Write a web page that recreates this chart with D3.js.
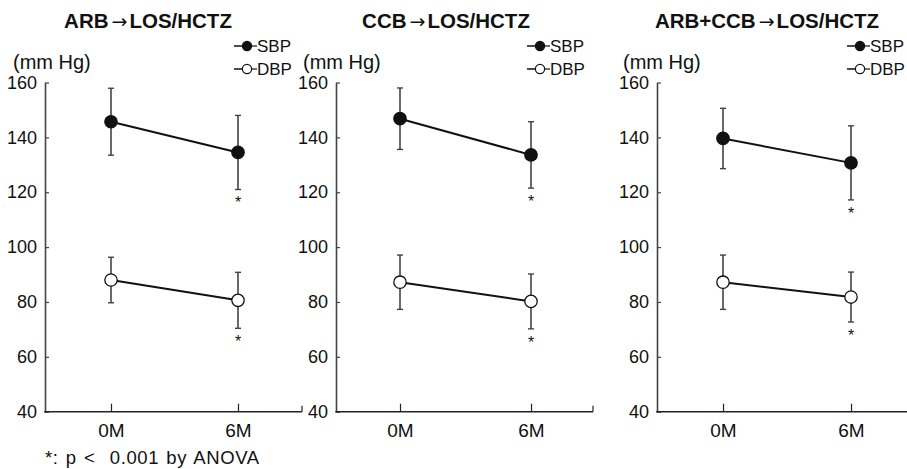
<!DOCTYPE html>
<html>
<head>
<meta charset="utf-8">
<script src="https://cdn.jsdelivr.net/npm/d3@7"></script>
<style>
  body { margin: 0; background: #fff; }
  text { font-family: "Liberation Sans", Arial, Helvetica, sans-serif; fill: #111; }
</style>
</head>
<body>
<svg id="chart" width="907" height="469"></svg>
<script>
// data
const times = ["0M", "6M"];
const titleFrom = ["ARB", "CCB", "ARB+CCB"];
const titleTo = "LOS/HCTZ";
const sbpMean = [[145.7, 134.5], [146.8, 133.6], [139.6, 130.7]];
const sbpSD   = [[12.2, 13.5], [11.2, 12.1], [11.0, 13.5]];
const dbpMean = [[88.0, 80.6], [87.2, 80.2], [87.2, 81.8]];
const dbpSD   = [[8.3, 10.2], [9.9, 10.0], [9.9, 9.1]];
const sigSBP  = [[false, true], [false, true], [false, true]];
const sigDBP  = [[false, true], [false, true], [false, true]];
const yTicks  = [40, 60, 80, 100, 120, 140, 160];
const legendLabels = ["SBP", "DBP"];
const footnote = "*: p <  0.001 by ANOVA";

// panel geometry
const layout = [
  {axisX: 45,  endX: 302, pts: [111, 238], titleX: 148, unitX: 13,  legX: 234},
  {axisX: 336, endX: 593, pts: [400, 531], titleX: 446, unitX: 303, legX: 527},
  {axisX: 657, endX: 912, pts: [723, 851], titleX: 767, unitX: 623, legX: 847}
];
const yTop = 82.5, yBottom = 411.7;

const svg = d3.select("#chart");

const y = d3.scaleLinear().domain([40, 160]).range([yBottom, yTop]);

layout.forEach((L, i) => {
  const g = svg.append("g");
  const x = d3.scalePoint().domain(times).range(L.pts);

  // title
  const t = g.append("text").attr("x", L.titleX).attr("y", 28)
    .attr("text-anchor", "middle").style("font-size", "20.5px").style("font-weight", "bold");
  t.append("tspan").text(titleFrom[i]);
  t.append("tspan").attr("dx", 3).style("font-weight", "normal").style("font-family", "'DejaVu Sans', sans-serif")
    .style("font-size", "19px").text("\u2192");
  t.append("tspan").attr("dx", 2).text(titleTo);

  // unit label
  g.append("text").attr("x", L.unitX).attr("y", 69)
    .style("font-size", "20px").text("(mm Hg)");

  // legend
  const leg = g.append("g");
  [sbpMean, dbpMean].forEach((s, k) => {
    const ly = k == 0 ? 46 : 69;
    leg.append("line").attr("x1", L.legX).attr("x2", L.legX + 13).attr("y1", ly).attr("y2", ly)
      .attr("stroke", "#111").attr("stroke-width", 1.5);
    leg.append("circle").attr("cx", L.legX + 13).attr("cy", ly).attr("r", 4.6)
      .attr("fill", k == 0 ? "#111" : "#fff").attr("stroke", "#111").attr("stroke-width", 1.2);
    leg.append("line").attr("x1", L.legX + 17).attr("x2", L.legX + 23).attr("y1", ly).attr("y2", ly)
      .attr("stroke", "#111").attr("stroke-width", 1.2);
    leg.append("text").attr("x", L.legX + 23).attr("y", ly + 6)
      .style("font-size", "17px").text(legendLabels[k]);
  });

  // y axis, ticks pointing inward
  const ya = g.append("g").attr("transform", `translate(${L.axisX},0)`)
    .call(d3.axisLeft(y).tickValues(yTicks).tickSizeInner(-4).tickSizeOuter(0).tickPadding(8));
  ya.select(".domain").attr("stroke", "#444").attr("stroke-width", 1.6);
  ya.selectAll(".tick line").attr("stroke", "#444").attr("stroke-width", 1.2);
  ya.selectAll(".tick text").style("font-size", "18px").attr("fill", "#111")
    .style("font-family", "'Liberation Sans', Arial, sans-serif");

  // x axis
  const xa = g.append("g").attr("transform", `translate(0,${yBottom})`)
    .call(d3.axisBottom(x).tickSizeInner(-8).tickSizeOuter(0).tickPadding(12));
  xa.select(".domain").remove();
  xa.selectAll(".tick line").attr("stroke", "#222").attr("stroke-width", 1.2);
  xa.selectAll(".tick text").style("font-size", "19px").attr("fill", "#111")
    .style("font-family", "'Liberation Sans', Arial, sans-serif");
  g.append("line").attr("x1", L.axisX - 0.8).attr("x2", L.endX).attr("y1", yBottom).attr("y2", yBottom)
    .attr("stroke", "#222").attr("stroke-width", 1.6);
  g.append("line").attr("x1", L.endX).attr("x2", L.endX).attr("y1", yBottom).attr("y2", yBottom - 6)
    .attr("stroke", "#222").attr("stroke-width", 1.2);

  // series
  const series = [
    {mean: sbpMean[i], sd: sbpSD[i], sig: sigSBP[i], fill: "#111"},
    {mean: dbpMean[i], sd: dbpSD[i], sig: sigDBP[i], fill: "#fff"}
  ];
  series.forEach(s => {
    const pts = times.map((t, j) => ({t: t, m: s.mean[j], sd: s.sd[j], sig: s.sig[j]}));

    // error bars
    pts.forEach(p => {
      const cx = x(p.t);
      g.append("line").attr("x1", cx).attr("x2", cx).attr("y1", y(p.m + p.sd)).attr("y2", y(p.m - p.sd))
        .attr("stroke", "#444").attr("stroke-width", 1.6);
      [p.m + p.sd, p.m - p.sd].forEach(v => {
        g.append("line").attr("x1", cx - 3).attr("x2", cx + 3).attr("y1", y(v)).attr("y2", y(v))
          .attr("stroke", "#444").attr("stroke-width", 1.4);
      });
      if (p.sig) {
        g.append("text").attr("x", cx).attr("y", y(p.m - p.sd) + 19)
          .attr("text-anchor", "middle").style("font-size", "16px").text("*");
      }
    });

    const line = d3.line().x(d => x(d.t)).y(d => y(d.m));
    g.append("path").datum(pts).attr("fill", "none").attr("stroke", "#111")
      .attr("stroke-width", 2).attr("d", line);

    g.selectAll(null).data(pts).enter().append("circle")
      .attr("cx", d => x(d.t)).attr("cy", d => y(d.m)).attr("r", 6.2)
      .attr("fill", s.fill).attr("stroke", "#111").attr("stroke-width", 1.3);
  });
});

svg.append("text").attr("x", 45).attr("y", 464)
  .style("font-size", "18.5px").style("white-space", "pre")
  .style("letter-spacing", "0.6px").style("word-spacing", "1.5px").text(footnote);
</script>
</body>
</html>
